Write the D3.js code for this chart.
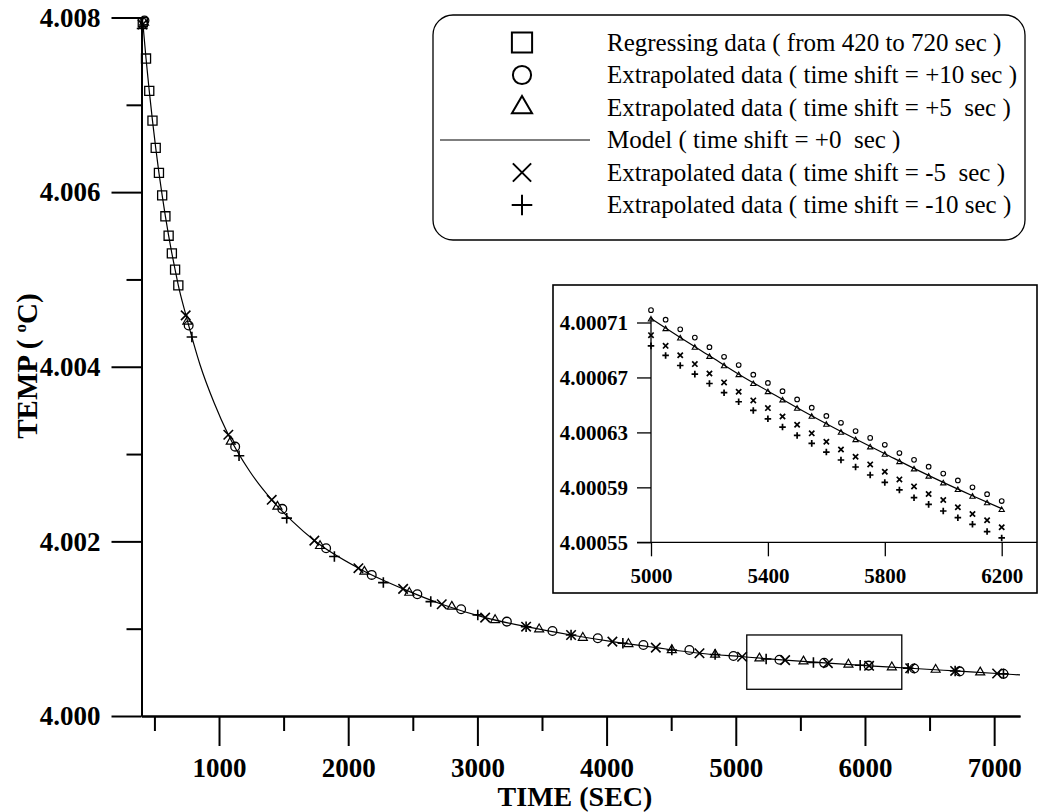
<!DOCTYPE html>
<html>
<head>
<meta charset="utf-8">
<script src="https://cdn.jsdelivr.net/npm/d3@7"></script>
<style>
  body { margin: 0; background: #fff; }
  svg { font-family: "Liberation Serif", "Times New Roman", serif; }
  .legend-text { white-space: pre; }
</style>
</head>
<body>
<svg id="chart" width="1040" height="812"></svg>
<script>
// ---- data ----
// regressing data (squares)
const sqTime = [410, 435, 460, 485, 510, 535, 560, 585, 610, 635, 660, 685];
const sqTemp = [4.007946, 4.007530, 4.007160, 4.006819, 4.006507, 4.006220, 4.005963, 4.005723, 4.005501, 4.005299, 4.005112, 4.004932];

// time shift +10 (circles)
const p10Time = [423, 765, 1125, 1490, 1829, 2182, 2535, 2874, 3228, 3581, 3932, 4285, 4641, 4982, 5338, 5684, 6028, 6381, 6733, 7072];
const p10Temp = [4.007966, 4.004473, 4.003085, 4.002372, 4.001922, 4.001616, 4.001395, 4.001223, 4.001081, 4.000974, 4.000891, 4.000814, 4.000756, 4.000687, 4.000644, 4.000609, 4.000577, 4.000544, 4.000511, 4.000483];

// time shift +5 (triangles)
const p5Time = [420, 755, 1091, 1452, 1782, 2125, 2473, 2802, 3137, 3478, 3816, 4169, 4505, 4840, 5183, 5524, 5872, 6208, 6547, 6892];
const p5Temp = [4.007943, 4.004519, 4.003144, 4.002399, 4.001948, 4.001654, 4.001413, 4.001253, 4.001100, 4.000994, 4.000897, 4.000825, 4.000756, 4.000704, 4.000661, 4.000626, 4.000590, 4.000559, 4.000531, 4.000500];

// time shift -5 (x)
const m5Time = [408, 742, 1072, 1408, 1738, 2079, 2425, 2724, 3060, 3377, 3725, 4045, 4381, 4719, 5049, 5382, 5713, 6032, 6350, 6698, 7023];
const m5Temp = [4.007920, 4.004588, 4.003221, 4.002476, 4.002009, 4.001693, 4.001456, 4.001280, 4.001127, 4.001023, 4.000928, 4.000852, 4.000783, 4.000719, 4.000679, 4.000640, 4.000605, 4.000575, 4.000547, 4.000516, 4.000487];

// time shift -10 (+)
const m10Time = [404, 790, 1155, 1524, 1893, 2272, 2639, 3003, 3377, 3725, 4126, 4505, 4840, 5235, 5601, 5963, 6334, 6698, 7072];
const m10Temp = [4.007874, 4.004340, 4.002980, 4.002266, 4.001826, 4.001528, 4.001310, 4.001158, 4.001023, 4.000928, 4.000833, 4.000756, 4.000704, 4.000652, 4.000613, 4.000581, 4.000548, 4.000516, 4.000483];

// model curve (time shift +0)
const modelTime = [407, 410, 435, 460, 485, 510, 535, 560, 585, 610, 635, 660, 685, 745, 853, 962, 1072, 1240, 1408, 1573, 1738, 2079, 2425, 2724, 3060, 3377, 3725, 4045, 4381, 4719, 5049, 5382, 5715, 6032, 6350, 6698, 7023, 7200];
const modelTemp = [4.008000, 4.007946, 4.007530, 4.007160, 4.006819, 4.006507, 4.006220, 4.005963, 4.005723, 4.005501, 4.005299, 4.005112, 4.004932, 4.004585, 4.004023, 4.003587, 4.003221, 4.002797, 4.002476, 4.002223, 4.002009, 4.001693, 4.001456, 4.001280, 4.001127, 4.001023, 4.000928, 4.000852, 4.000783, 4.000719, 4.000679, 4.000640, 4.000605, 4.000575, 4.000547, 4.000516, 4.000487, 4.000470];

// zoom window marked on the main plot
const zoomTime = [5085, 6285];
const zoomTemp = [4.000306, 4.000928];

// axis ticks
const xMajorTicks = [1000, 2000, 3000, 4000, 5000, 6000, 7000];
const xMinorTicks = [500, 1500, 2500, 3500, 4500, 5500, 6500];
const yMajorTicks = [4.000, 4.002, 4.004, 4.006, 4.008];
const yMinorTicks = [4.001, 4.003, 4.005, 4.007];

// inset data (5000 - 6200 sec, every 50 sec)
const insetTime = [5000, 5050, 5100, 5150, 5200, 5250, 5300, 5350, 5400, 5450, 5500, 5550, 5600, 5650, 5700, 5750, 5800, 5850, 5900, 5950, 6000, 6050, 6100, 6150, 6200];
const insetP10 = [4.000719, 4.000712, 4.000705, 4.000699, 4.000692, 4.000685, 4.000679, 4.000672, 4.000666, 4.000660, 4.000654, 4.000648, 4.000642, 4.000637, 4.000631, 4.000626, 4.000621, 4.000615, 4.000610, 4.000605, 4.000600, 4.000595, 4.000590, 4.000585, 4.000580];
const insetP5 = [4.0007122, 4.0007052, 4.0006984, 4.0006916, 4.0006850, 4.0006782, 4.0006717, 4.0006652, 4.0006593, 4.0006533, 4.0006472, 4.0006414, 4.0006356, 4.0006298, 4.0006244, 4.0006191, 4.0006138, 4.0006084, 4.0006031, 4.0005978, 4.0005929, 4.0005881, 4.0005832, 4.0005784, 4.0005735];
const insetM5 = [4.0007008, 4.0006930, 4.0006862, 4.0006797, 4.0006729, 4.0006664, 4.0006596, 4.0006533, 4.0006477, 4.0006416, 4.0006356, 4.0006293, 4.0006232, 4.0006176, 4.0006123, 4.0006067, 4.0006014, 4.0005958, 4.0005907, 4.0005852, 4.0005808, 4.0005755, 4.0005706, 4.0005660, 4.0005609];
const insetM10 = [4.0006930, 4.0006860, 4.0006787, 4.0006724, 4.0006656, 4.0006589, 4.0006523, 4.0006460, 4.0006399, 4.0006339, 4.0006278, 4.0006220, 4.0006157, 4.0006099, 4.0006048, 4.0005990, 4.0005936, 4.0005881, 4.0005825, 4.0005776, 4.0005728, 4.0005679, 4.0005631, 4.0005578, 4.0005532];
const insetModelTime = [5000, 5100, 5200, 5300, 5400, 5500, 5600, 5700, 5800, 5900, 6000, 6100, 6200];
const insetModelTemp = [4.0007129, 4.0006991, 4.0006858, 4.0006724, 4.0006601, 4.0006479, 4.0006363, 4.0006252, 4.0006145, 4.0006038, 4.0005936, 4.0005839, 4.0005745];
const insetXTicks = [5000, 5400, 5800, 6200];
const insetYTicks = [4.00055, 4.00059, 4.00063, 4.00067, 4.00071];

const legendLabels = [
    "Regressing data ( from 420 to 720 sec )",
    "Extrapolated data ( time shift = +10 sec )",
    "Extrapolated data ( time shift = +5  sec )",
    "Model ( time shift = +0  sec )",
    "Extrapolated data ( time shift = -5  sec )",
    "Extrapolated data ( time shift = -10 sec )"
];

// ---- layout ----
const width = 1040, height = 812;
const margin = { top: 17.5, right: 20, bottom: 96, left: 141.5 };
const serif = '"Liberation Serif", "Times New Roman", serif';

const svg = d3.select("#chart");

const x = d3.scaleLinear().domain([400, 7200]).range([margin.left, width - margin.right]);
const y = d3.scaleLinear().domain([4.000, 4.008]).range([height - margin.bottom, margin.top]);

function styleAxis(g, size) {
    g.attr("font-family", serif)
        .attr("font-size", size)
        .attr("font-weight", "bold");
    g.selectAll("text").attr("fill", "#000");
    g.selectAll("line").attr("stroke", "#000").attr("stroke-width", 2);
    g.select(".domain").attr("stroke", "#000").attr("stroke-width", 2);
}

// main axes: minor then major
svg.append("g")
    .attr("transform", `translate(0,${y(4.000)})`)
    .call(d3.axisBottom(x).tickValues(xMinorTicks).tickSize(15).tickSizeOuter(0).tickFormat(""))
    .call(g => styleAxis(g, 27));
svg.append("g")
    .attr("transform", `translate(0,${y(4.000)})`)
    .call(d3.axisBottom(x).tickValues(xMajorTicks).tickSize(30).tickSizeOuter(0).tickPadding(12).tickFormat(d3.format("d")))
    .call(g => styleAxis(g, 27));

svg.append("g")
    .attr("transform", `translate(${x(400)},0)`)
    .call(d3.axisLeft(y).tickValues(yMinorTicks).tickSize(15).tickSizeOuter(0).tickFormat(""))
    .call(g => styleAxis(g, 27));
svg.append("g")
    .attr("transform", `translate(${x(400)},0)`)
    .call(d3.axisLeft(y).tickValues(yMajorTicks).tickSize(30).tickSizeOuter(0).tickPadding(11).tickFormat(d3.format(".3f")))
    .call(g => styleAxis(g, 27));

// axis titles
svg.append("text")
    .attr("x", 575)
    .attr("y", 806)
    .attr("text-anchor", "middle")
    .attr("font-size", 28)
    .attr("font-weight", "bold")
    .text("TIME (SEC)");

const yTitle = svg.append("text")
    .attr("transform", "rotate(-90)")
    .attr("x", -366)
    .attr("y", 37)
    .attr("text-anchor", "middle")
    .attr("font-size", 29)
    .attr("font-weight", "bold");
yTitle.append("tspan").text("TEMP ( ");
yTitle.append("tspan").attr("font-size", 17).attr("dy", -11).text("o");
yTitle.append("tspan").attr("dy", 11).text("C)");

// ---- model line + markers ----
const line = d3.line()
    .x(d => x(d[0]))
    .y(d => y(d[1]))
    .curve(d3.curveMonotoneX);

svg.append("path")
    .datum(d3.zip(modelTime, modelTemp))
    .attr("fill", "none")
    .attr("stroke", "#000")
    .attr("stroke-width", 1.2)
    .attr("d", line);

function drawMarkers(xs, ys, times, temps, type, size, sw) {
    svg.append("g").selectAll("path")
        .data(d3.zip(times, temps))
        .enter()
        .append("path")
        .attr("transform", d => `translate(${xs(d[0])},${ys(d[1])})`)
        .attr("d", d3.symbol(type, size))
        .attr("fill", "none")
        .attr("stroke", "#000")
        .attr("stroke-width", sw);
}

drawMarkers(x, y, sqTime, sqTemp, d3.symbolSquare2, 105, 1.3);
drawMarkers(x, y, p10Time, p10Temp, d3.symbolCircle, 60, 1.3);
drawMarkers(x, y, p5Time, p5Temp, d3.symbolTriangle2, 58, 1.2);
drawMarkers(x, y, m5Time, m5Temp, d3.symbolTimes, 60, 1.6);
drawMarkers(x, y, m10Time, m10Temp, d3.symbolPlus, 38, 1.6);

// zoom window
svg.append("rect")
    .attr("x", x(zoomTime[0]))
    .attr("y", y(zoomTemp[1]))
    .attr("width", x(zoomTime[1]) - x(zoomTime[0]))
    .attr("height", y(zoomTemp[0]) - y(zoomTemp[1]))
    .attr("fill", "none")
    .attr("stroke", "#000")
    .attr("stroke-width", 1.3);

// ---- legend ----
const legend = svg.append("g");
legend.append("rect")
    .attr("x", 433).attr("y", 15)
    .attr("width", 592).attr("height", 225)
    .attr("rx", 20)
    .attr("fill", "#fff")
    .attr("stroke", "#000")
    .attr("stroke-width", 1.3);

const legendY = d3.scalePoint().domain(d3.range(legendLabels.length)).range([42.5, 205]);
const legendSymbols = [
    { type: d3.symbolSquare2, size: 520 },
    { type: d3.symbolCircle, size: 260 },
    { type: d3.symbolTriangle2, size: 290 },
    null,
    { type: d3.symbolTimes, size: 220 },
    { type: d3.symbolPlus, size: 140 }
];

legendLabels.forEach((label, i) => {
    const ly = legendY(i);
    const sym = legendSymbols[i];
    if (sym) {
        legend.append("path")
            .attr("transform", `translate(522,${ly})`)
            .attr("d", d3.symbol(sym.type, sym.size))
            .attr("fill", "none")
            .attr("stroke", "#000")
            .attr("stroke-width", 2);
    } else {
        legend.append("line")
            .attr("x1", 440).attr("x2", 590)
            .attr("y1", ly).attr("y2", ly)
            .attr("stroke", "#000")
            .attr("stroke-width", 1.2);
    }
    legend.append("text")
        .attr("class", "legend-text")
        .attr("x", 607)
        .attr("y", ly)
        .attr("dy", "0.33em")
        .attr("font-size", 25)
        .text(label);
});

// ---- inset ----
const insetBox = { left: 553, top: 285, right: 1037, bottom: 593 };
const inset = svg.append("g");
inset.append("rect")
    .attr("x", insetBox.left).attr("y", insetBox.top)
    .attr("width", insetBox.right - insetBox.left)
    .attr("height", insetBox.bottom - insetBox.top)
    .attr("fill", "#fff")
    .attr("stroke", "#000")
    .attr("stroke-width", 1.6);

const xi = d3.scaleLinear().domain([5000, 6200]).range([651, 1001.7]);
const yi = d3.scaleLinear().domain([4.00055, 4.000714]).range([542.3, 317]);

inset.append("g")
    .attr("transform", `translate(0,${yi(4.00055)})`)
    .call(d3.axisBottom(xi).tickValues(insetXTicks).tickSize(14).tickSizeOuter(0).tickPadding(12).tickFormat(d3.format("d")))
    .call(g => styleAxis(g, 21))
    .call(g => g.selectAll("line").attr("stroke-width", 1.3))
    .call(g => g.select(".domain").remove());
inset.append("g")
    .attr("transform", `translate(${xi(5000)},0)`)
    .call(d3.axisLeft(yi).tickValues(insetYTicks).tickSize(14).tickSizeOuter(0).tickPadding(9).tickFormat(d3.format(".5f")))
    .call(g => styleAxis(g, 21))
    .call(g => g.selectAll("line").attr("stroke-width", 1.3))
    .call(g => g.select(".domain").remove());

// inset axis lines
inset.append("line")
    .attr("x1", xi(5000) - 14).attr("x2", insetBox.right)
    .attr("y1", yi(4.00055)).attr("y2", yi(4.00055))
    .attr("stroke", "#000").attr("stroke-width", 1.3);
inset.append("line")
    .attr("x1", xi(5000)).attr("x2", xi(5000))
    .attr("y1", yi.range()[1]).attr("y2", yi(4.00055))
    .attr("stroke", "#000").attr("stroke-width", 1.3);

const insetLine = d3.line()
    .x(d => xi(d[0]))
    .y(d => yi(d[1]))
    .curve(d3.curveMonotoneX);
inset.append("path")
    .datum(d3.zip(insetModelTime, insetModelTemp))
    .attr("fill", "none")
    .attr("stroke", "#000")
    .attr("stroke-width", 1.2)
    .attr("d", insetLine);

drawMarkers(xi, yi, insetTime, insetP10, d3.symbolCircle, 17, 1.1);
drawMarkers(xi, yi, insetTime, insetP5, d3.symbolTriangle2, 20, 1.1);
drawMarkers(xi, yi, insetTime, insetM5, d3.symbolTimes, 20, 1.7);
drawMarkers(xi, yi, insetTime, insetM10, d3.symbolPlus, 16, 1.7);
</script>
</body>
</html>
